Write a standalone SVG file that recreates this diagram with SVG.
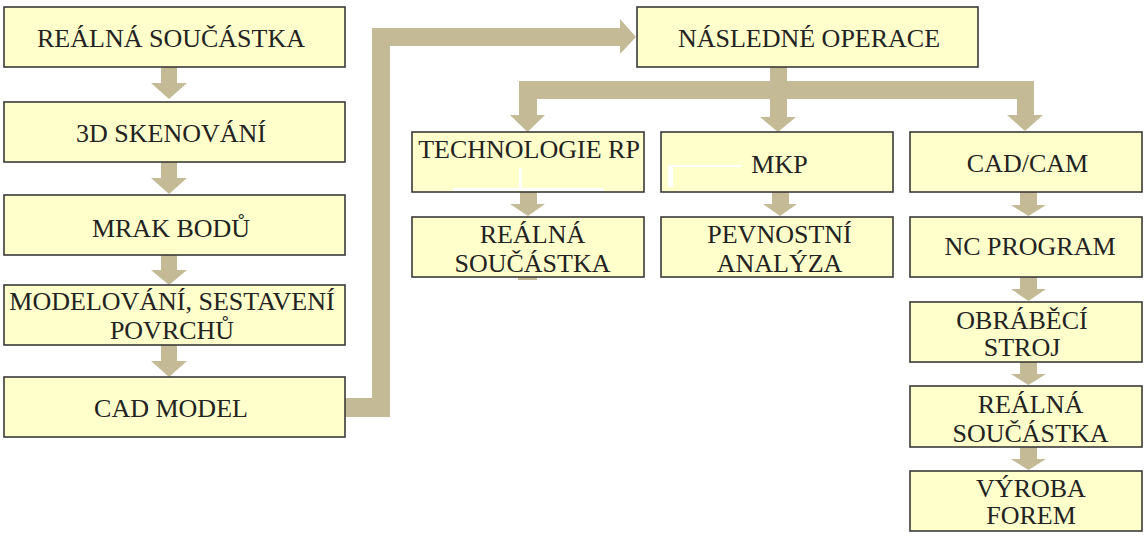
<svg xmlns="http://www.w3.org/2000/svg" width="1148" height="537" viewBox="0 0 1148 537" font-family="Liberation Serif, DejaVu Serif, serif">
<style>
.box{fill:#FFFFCC;stroke:#3a3a3a;stroke-width:1.6}
.t{font-family:Liberation Serif, DejaVu Serif, serif;font-size:26px;fill:#222;text-anchor:middle}
.c{fill:#C4BA96}
.w{fill:#FFFFFF}
</style>
<rect width="1148" height="537" fill="#FFFFFF"/>
<g id="connectors">
  <polygon class="c" points="161,67 177,67 177,83 187,83 169,99 151,83 161,83"/>
  <polygon class="c" points="161,162 177,162 177,178 187,178 169,194 151,178 161,178"/>
  <polygon class="c" points="161,255 177,255 177,270 187,270 169,285 151,270 161,270"/>
  <polygon class="c" points="161,345 177,345 177,361 187,361 169,377 151,361 161,361"/>
  <polygon class="c" points="345,398 372,398 372,28 620,28 620,19 636,37 620,54 620,46 390,46 390,417 345,417"/>
  <rect class="c" x="519" y="81" width="515" height="18"/>
  <polygon class="c" points="770,67 787,67 787,117 796,117 778,132 760,117 770,117"/>
  <polygon class="c" points="519,99 537,99 537,115 545,115 527.5,132 510,115 519,115"/>
  <polygon class="c" points="1017,81 1034,81 1034,115 1043,115 1025,131 1007,115 1017,115"/>
  <polygon class="c" points="520,192 537,192 537,204 545,204 528,216 510,204 520,204"/>
  <rect class="c" x="518" y="277" width="19" height="3"/>
  <polygon class="c" points="772,192 789,192 789,204 797,204 780,216 763,204 772,204"/>
  <polygon class="c" points="1020,192 1037,192 1037,205 1046,205 1028.5,216 1011,205 1020,205"/>
  <polygon class="c" points="1020,277 1037,277 1037,289 1046,289 1028.5,301 1011,289 1020,289"/>
  <polygon class="c" points="1020,362 1037,362 1037,374 1046,374 1028.5,385 1011,374 1020,374"/>
  <polygon class="c" points="1020,447 1037,447 1037,459 1046,459 1028.5,470 1011,459 1020,459"/>
</g>
<g id="n-realna1"><rect class="box" x="4" y="7" width="341" height="60"/><text class="t" x="171" y="47">REÁLNÁ SOUČÁSTKA</text></g>
<g id="n-sken"><rect class="box" x="4" y="102" width="341" height="60"/><text class="t" x="171" y="142">3D SKENOVÁNÍ</text></g>
<g id="n-mrak"><rect class="box" x="4" y="195" width="341" height="60"/><text class="t" x="171" y="237">MRAK BODŮ</text></g>
<g id="n-model"><rect class="box" x="4" y="285" width="341" height="60"/><text class="t" x="172" y="310">MODELOVÁNÍ, SESTAVENÍ</text><text class="t" x="172" y="339">POVRCHŮ</text></g>
<g id="n-cad"><rect class="box" x="4" y="377" width="341" height="60"/><text class="t" x="171" y="417">CAD MODEL</text></g>
<g id="n-nasledne"><rect class="box" x="637" y="7" width="341" height="60"/><text class="t" x="809" y="47">NÁSLEDNÉ OPERACE</text></g>
<g id="n-tech"><rect class="box" x="412" y="132" width="232" height="60"/><text class="t" x="529" y="158">TECHNOLOGIE RP</text>
  <rect class="w" x="519" y="168" width="3" height="20"/><rect class="w" x="453" y="188" width="151" height="3"/></g>
<g id="n-mkp"><rect class="box" x="661" y="132" width="232" height="60"/><text class="t" x="779.5" y="173">MKP</text>
  <rect class="w" x="668" y="165" width="74" height="2"/><rect class="w" x="668" y="165" width="5" height="22"/></g>
<g id="n-cadcam"><rect class="box" x="910" y="132" width="232" height="60"/><text class="t" x="1027.5" y="172">CAD/CAM</text></g>
<g id="n-realna2"><rect class="box" x="412" y="217" width="232" height="60"/><text class="t" x="532.5" y="243">REÁLNÁ</text><text class="t" x="532.5" y="272">SOUČÁSTKA</text></g>
<g id="n-pevnost"><rect class="box" x="661" y="217" width="232" height="60"/><text class="t" x="779.5" y="243">PEVNOSTNÍ</text><text class="t" x="779.5" y="272">ANALÝZA</text></g>
<g id="n-nc"><rect class="box" x="910" y="217" width="232" height="60"/><text class="t" x="1030" y="255">NC PROGRAM</text></g>
<g id="n-obrab"><rect class="box" x="910" y="302" width="232" height="60"/><text class="t" x="1022" y="329">OBRÁBĚCÍ</text><text class="t" x="1022" y="356">STROJ</text></g>
<g id="n-realna3"><rect class="box" x="910" y="386" width="232" height="61"/><text class="t" x="1030.5" y="413">REÁLNÁ</text><text class="t" x="1030.5" y="442">SOUČÁSTKA</text></g>
<g id="n-vyroba"><rect class="box" x="910" y="471" width="232" height="60"/><text class="t" x="1031" y="497">VÝROBA</text><text class="t" x="1031" y="524">FOREM</text></g>
</svg>
